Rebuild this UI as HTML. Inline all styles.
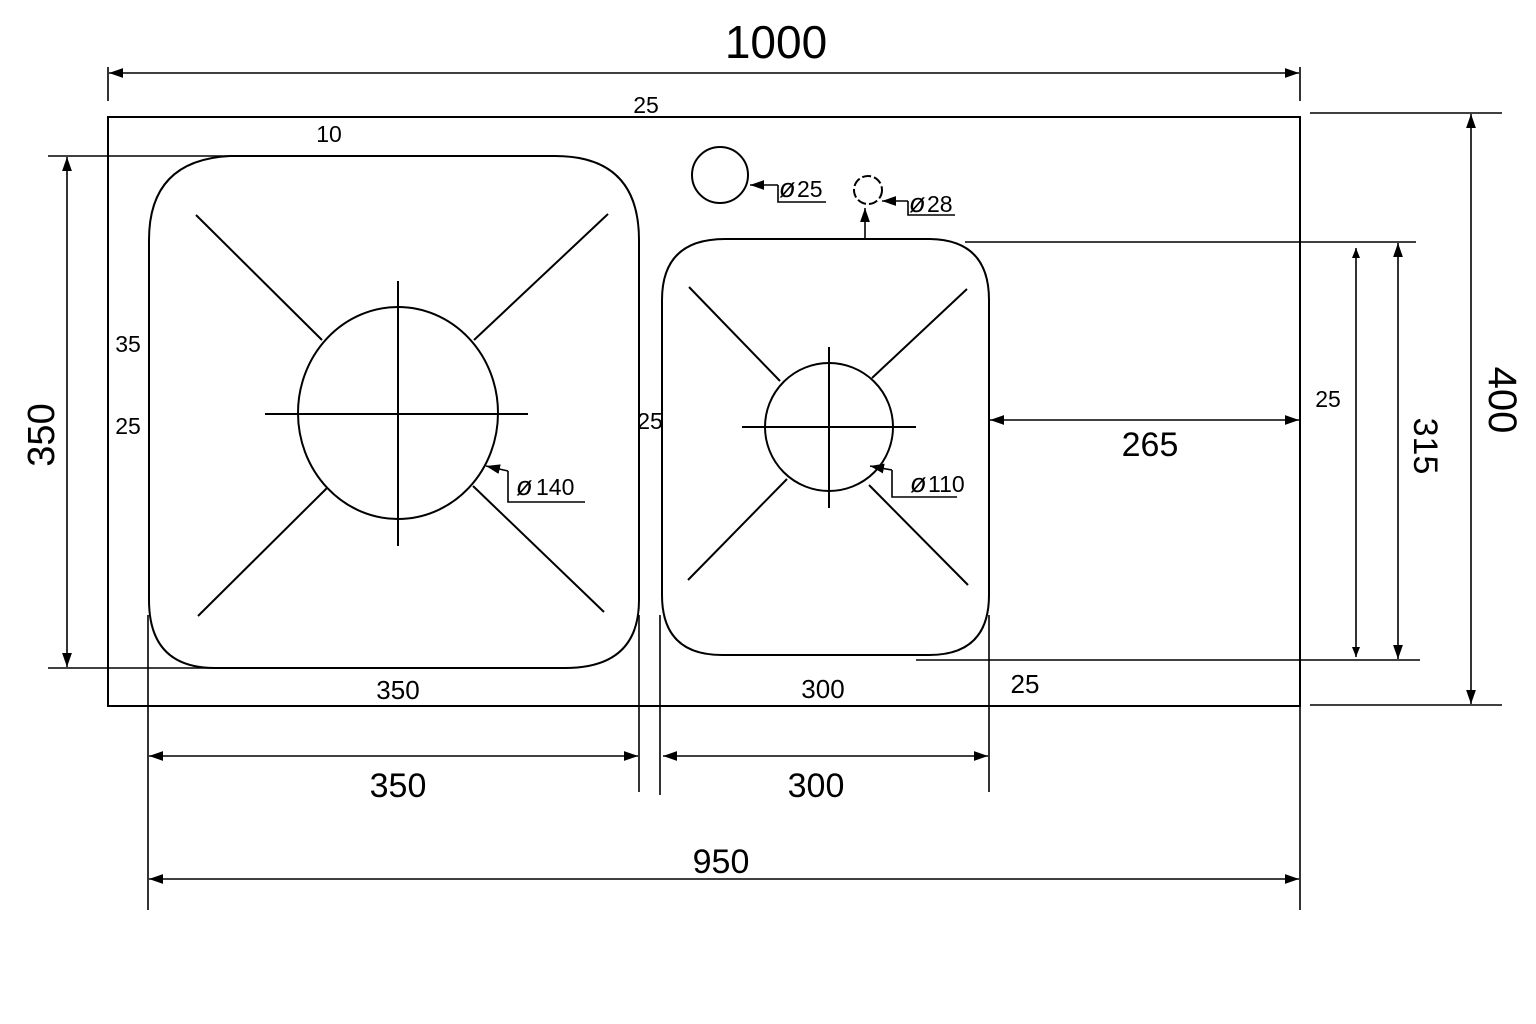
<!DOCTYPE html>
<html><head><meta charset="utf-8"><style>
html,body{margin:0;padding:0;background:#fff;}
svg{display:block;}
text{font-family:"Liberation Sans",Arial,sans-serif;fill:#000;}
</style></head><body>
<svg width="1536" height="1024" viewBox="0 0 1536 1024" xmlns="http://www.w3.org/2000/svg">
<defs>
<marker id="a" viewBox="0 0 10 10" refX="10" refY="5" markerWidth="10" markerHeight="10" markerUnits="userSpaceOnUse" orient="auto-start-reverse"><path d="M0,1 L10,5 L0,9 z" fill="#000"/></marker>
<marker id="b" viewBox="0 0 10 10" refX="10" refY="5" markerWidth="14" markerHeight="14" markerUnits="userSpaceOnUse" orient="auto-start-reverse"><path d="M0,1.5 L10,5 L0,8.5 z" fill="#000"/></marker>
</defs>
<g stroke="#000" fill="none" stroke-width="2">
<rect x="108" y="117" width="1192" height="589"/>
<path d="M230,156 L555,156 Q639,156 639,240 L639,600 Q639,668 565,668 L215,668 Q149,668 149,600 L149,240 Q149,160 230,156 Z"/>
<path d="M725,239 L930,239 Q989,240 989,300 L989,595 Q989,655 929,655 L722,655 Q662,655 662,595 L662,300 Q662,239 725,239 Z"/>
<ellipse cx="398" cy="413" rx="100" ry="106"/>
<line x1="265" y1="414" x2="528" y2="414"/>
<line x1="398" y1="281" x2="398" y2="546"/>
<line x1="196" y1="215" x2="322" y2="340"/>
<line x1="608" y1="214" x2="474" y2="340"/>
<line x1="198" y1="616" x2="327" y2="488"/>
<line x1="604" y1="612" x2="473" y2="486"/>
<circle cx="829" cy="427" r="64"/>
<line x1="742" y1="427" x2="916" y2="427"/>
<line x1="829" y1="347" x2="829" y2="508"/>
<line x1="689" y1="287" x2="780" y2="381"/>
<line x1="967" y1="289" x2="872" y2="378"/>
<line x1="688" y1="580" x2="787" y2="479"/>
<line x1="968" y1="585" x2="869" y2="485"/>
<circle cx="720" cy="175" r="28"/>
<circle cx="868" cy="190" r="14" stroke-dasharray="9 3"/>
</g>
<g stroke="#000" fill="none" stroke-width="1.6">
<polyline points="778,185 778,202 826,202" />
<line x1="778" y1="185" x2="750" y2="185" marker-end="url(#b)"/>
<polyline points="908,201 908,215 955,215"/>
<line x1="908" y1="201" x2="882" y2="201" marker-end="url(#b)"/>
<line x1="865" y1="239" x2="865" y2="208" marker-end="url(#b)"/>
<polyline points="508,471 508,502 585,502"/>
<line x1="508" y1="471" x2="486" y2="466" marker-end="url(#b)"/>
<polyline points="892,470 892,497 957,497"/>
<line x1="892" y1="470" x2="870" y2="466" marker-end="url(#b)"/>
<line x1="108" y1="67" x2="108" y2="101"/>
<line x1="1300" y1="67" x2="1300" y2="101"/>
<line x1="109" y1="73" x2="1299" y2="73" marker-start="url(#b)" marker-end="url(#b)"/>
<line x1="48" y1="156" x2="230" y2="156"/>
<line x1="48" y1="668" x2="215" y2="668"/>
<line x1="67" y1="157" x2="67" y2="667" marker-start="url(#b)" marker-end="url(#b)"/>
<line x1="1310" y1="113" x2="1502" y2="113"/>
<line x1="1310" y1="705" x2="1502" y2="705"/>
<line x1="1471" y1="114" x2="1471" y2="704" marker-start="url(#b)" marker-end="url(#b)"/>
<line x1="965" y1="242" x2="1416" y2="242"/>
<line x1="916" y1="660" x2="1420" y2="660"/>
<line x1="1398" y1="243" x2="1398" y2="659" marker-start="url(#b)" marker-end="url(#b)"/>
<line x1="1356" y1="248" x2="1356" y2="657" marker-start="url(#a)" marker-end="url(#a)"/>
<line x1="990" y1="420" x2="1299" y2="420" marker-start="url(#b)" marker-end="url(#b)"/>
<line x1="148" y1="615" x2="148" y2="910"/>
<line x1="639" y1="615" x2="639" y2="792"/>
<line x1="660" y1="615" x2="660" y2="795"/>
<line x1="989" y1="615" x2="989" y2="792"/>
<line x1="1300" y1="706" x2="1300" y2="910"/>
<line x1="149" y1="756" x2="638" y2="756" marker-start="url(#b)" marker-end="url(#b)"/>
<line x1="663" y1="756" x2="988" y2="756" marker-start="url(#b)" marker-end="url(#b)"/>
<line x1="149" y1="879" x2="1299" y2="879" marker-start="url(#b)" marker-end="url(#b)"/>
</g>
<g text-anchor="middle">
<text x="776" y="58" font-size="46">1000</text>
<text x="646" y="113" font-size="23">25</text>
<text x="329" y="142" font-size="23">10</text>
<text x="128" y="352" font-size="23">35</text>
<text x="128" y="434" font-size="23">25</text>
<text x="650" y="429" font-size="23">25</text>
<text x="398" y="699" font-size="26">350</text>
<text x="823" y="698" font-size="26">300</text>
<text x="1025" y="693" font-size="26">25</text>
<text x="1328" y="407" font-size="23">25</text>
<text x="1150" y="456" font-size="34">265</text>
<text x="398" y="797" font-size="34">350</text>
<text x="816" y="797" font-size="34">300</text>
<text x="721" y="873" font-size="34">950</text>
<text transform="translate(54,435) rotate(-90)" font-size="38">350</text>
<text transform="translate(1489,400) rotate(90)" font-size="40">400</text>
<text transform="translate(1414,446) rotate(90)" font-size="34">315</text>
</g>
<g font-size="23">
<text x="779" y="197" font-size="27" font-style="italic">ø</text><text x="797" y="197">25</text>
<text x="909" y="212" font-size="27" font-style="italic">ø</text><text x="927" y="212">28</text>
<text x="516" y="495" font-size="27" font-style="italic">ø</text><text x="536" y="495">140</text>
<text x="910" y="492" font-size="27" font-style="italic">ø</text><text x="928" y="492">110</text>
</g>
</svg>
</body></html>
